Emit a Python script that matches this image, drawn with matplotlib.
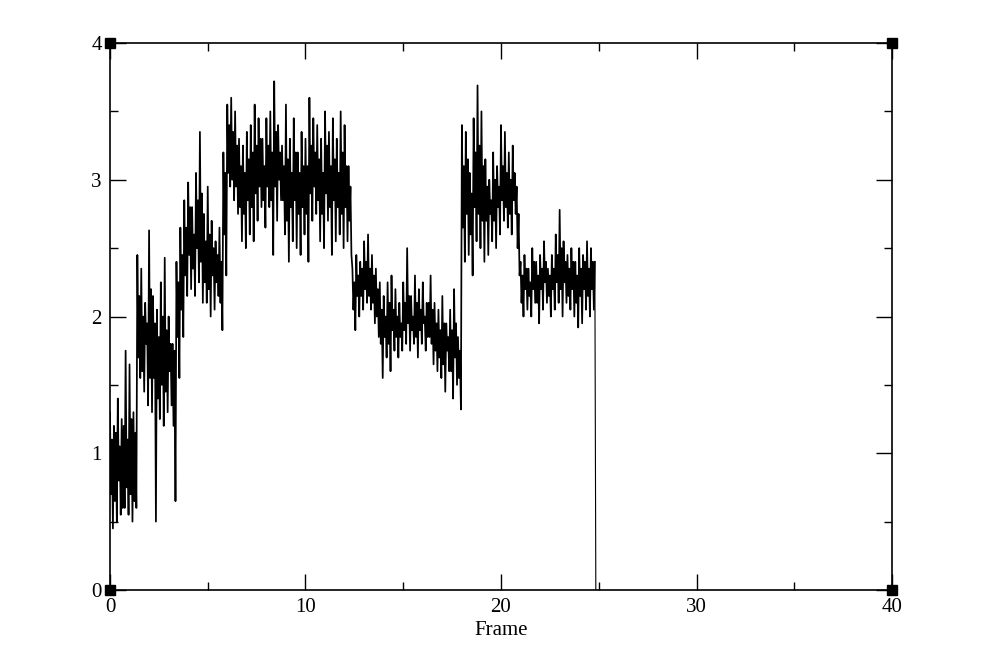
import numpy as np
import matplotlib
matplotlib.use("Agg")
import matplotlib.pyplot as plt
from matplotlib.ticker import MultipleLocator

# Noisy series read per 0.2-frame bin: outer extremes (upper / lower)
bin_width = 0.2
upper = [1.30, 1.20, 1.40, 1.25, 1.75, 1.65, 1.30, 2.45, 2.35, 2.10,
         2.63, 2.15, 2.05, 2.25, 2.43, 2.00, 1.80, 2.40, 2.65, 2.85,
         2.98, 2.80, 3.05, 3.35, 2.75, 2.95, 2.70, 2.55, 2.65, 3.20,
         3.55, 3.60, 3.50, 3.30, 3.25, 3.35, 3.40, 3.55, 3.45, 3.30,
         3.45, 3.50, 3.72, 3.40, 3.25, 3.55, 3.30, 3.45, 3.20, 3.35,
         3.30, 3.60, 3.45, 3.40, 3.30, 3.50, 3.35, 3.45, 3.30, 3.50,
         3.40, 3.10, 2.35, 2.45, 2.40, 2.55, 2.60, 2.45, 2.35, 2.25,
         2.15, 2.25, 2.30, 2.20, 2.10, 2.25, 2.50, 2.15, 2.30, 2.20,
         2.25, 2.10, 2.30, 2.10, 2.05, 2.15, 1.95, 2.05, 2.20, 1.85,
         3.40, 3.35, 3.05, 3.45, 3.69, 3.50, 3.15, 3.00, 3.20, 3.10,
         3.40, 3.35, 3.20, 3.25, 2.95, 2.40, 2.45, 2.35, 2.50, 2.40,
         2.45, 2.55, 2.35, 2.45, 2.60, 2.78, 2.55, 2.45, 2.50, 2.40,
         2.50, 2.45, 2.55, 2.50]
lower = [0.45, 0.50, 0.55, 0.60, 0.55, 0.50, 0.60, 1.55, 1.45, 1.35,
         1.30, 0.50, 1.25, 1.20, 1.30, 1.35, 0.65, 1.55, 1.85, 2.15,
         2.20, 2.15, 2.25, 2.10, 2.10, 2.00, 2.05, 2.15, 1.90, 2.30,
         2.95, 2.85, 2.75, 2.55, 2.50, 2.60, 2.55, 2.70, 2.80, 2.65,
         2.80, 2.45, 2.70, 2.85, 2.60, 2.40, 2.55, 2.50, 2.45, 2.60,
         2.40, 2.70, 2.75, 2.55, 2.50, 2.70, 2.45, 2.55, 2.60, 2.50,
         2.55, 2.45, 1.90, 2.00, 2.05, 2.10, 2.05, 1.95, 1.85, 1.55,
         1.70, 1.60, 1.75, 1.70, 1.75, 1.80, 1.75, 1.80, 1.70, 1.80,
         1.75, 1.85, 1.65, 1.60, 1.55, 1.45, 1.60, 1.40, 1.50, 1.32,
         2.40, 2.45, 2.30, 2.55, 2.50, 2.40, 2.45, 2.55, 2.50, 2.60,
         2.70, 2.65, 2.60, 2.75, 2.30, 2.00, 2.05, 2.00, 2.10, 1.95,
         2.05, 2.10, 2.00, 2.05, 2.10, 2.00, 2.10, 2.05, 2.00, 1.92,
         1.95, 2.05, 2.00, 2.05]

# Same bins, inner (dense core) high / low values
inner_high = [1.10, 1.15, 1.05, 1.20, 1.10, 1.25, 1.15,
              2.15, 2.00, 1.95, 2.20,
              1.95, 1.85, 2.00, 1.90, 1.80,
              1.75,
              2.25, 2.45,
              2.65, 2.80, 2.60, 2.85, 2.90,
              2.55, 2.60, 2.50, 2.45, 2.40,
              3.05,
              3.40, 3.35, 3.25,
              3.10, 3.05, 3.15, 3.20, 3.25, 3.30, 3.10,
              3.25, 3.20, 3.35, 3.20, 3.10, 3.15, 3.05, 3.20, 3.05, 3.10,
              3.10, 3.25, 3.20, 3.15, 3.05, 3.25, 3.10, 3.15, 3.05, 3.20, 3.10, 2.95,
              2.25, 2.30, 2.35, 2.40, 2.35, 2.30, 2.20,
              2.05, 2.00, 2.10, 2.05, 2.00, 1.95, 2.10, 2.15, 2.00, 2.10, 2.05, 2.00, 2.10, 2.05, 1.95,
              1.90, 1.95, 1.85, 1.90, 1.95, 1.75,
              3.10, 3.15, 2.90, 3.20, 3.25, 3.10,
              2.95, 2.85, 3.00, 2.95, 3.10, 3.05, 3.00, 3.05, 2.75,
              2.30, 2.35, 2.25, 2.40, 2.30, 2.35, 2.40, 2.30, 2.35, 2.45,
              2.50, 2.40, 2.35, 2.40, 2.30, 2.35, 2.40, 2.35, 2.40]
inner_low = [0.70, 0.65, 0.80, 0.60, 0.75, 0.70, 0.65,
             1.70, 1.60, 1.80, 1.55,
             1.55, 1.40, 1.50, 1.45, 1.60,
             1.20,
             1.85, 2.05,
             2.30, 2.45, 2.35, 2.50, 2.40,
             2.25, 2.20, 2.30, 2.25, 2.10,
             2.60,
             3.05, 3.00, 2.95,
             2.80, 2.75, 2.85, 2.80, 2.90, 2.95, 2.85,
             2.95, 2.85, 2.95, 3.00, 2.85, 2.70, 2.80, 2.85, 2.75, 2.80,
             2.75, 2.90, 2.95, 2.85, 2.75, 2.90, 2.80, 2.85, 2.80, 2.75, 2.80, 2.70,
             2.05, 2.15, 2.15, 2.20, 2.15, 2.10, 2.00,
             1.80, 1.85, 1.80, 1.90, 1.85, 1.85, 1.90, 1.95, 1.90, 1.85, 1.90, 1.95, 1.85, 1.80, 1.75,
             1.70, 1.65, 1.75, 1.60, 1.70, 1.55,
             2.65, 2.75, 2.60, 2.80, 2.75, 2.70,
             2.70, 2.75, 2.70, 2.80, 2.85, 2.80, 2.75, 2.85, 2.50,
             2.10, 2.20, 2.15, 2.20, 2.10, 2.20, 2.25, 2.15, 2.20, 2.25,
             2.20, 2.25, 2.15, 2.20, 2.10, 2.15, 2.20, 2.15, 2.20]

end_frame = 24.85
end_value = 0.0

x_ticks = [0, 10, 20, 30, 40]
y_ticks = [0, 1, 2, 3, 4]
corner_x = [0, 0, 40, 40]
corner_y = [0, 4, 0, 4]

# build the trace: four samples per bin
n = len(upper)
q = bin_width / 4
xs, ys = [], []
for i in range(n):
    x0 = i * bin_width
    xs += [x0, x0 + q, x0 + 2 * q, x0 + 3 * q]
    ys += [upper[i], inner_low[i], inner_high[i], lower[i]]
xs.append(n * bin_width)
ys.append(inner_high[-1])

plt.rcParams['font.family'] = ['Liberation Serif', 'DejaVu Serif']
fig = plt.figure(figsize=(9.98, 6.62), dpi=100)
ax = fig.add_axes([0.1102, 0.1088, 0.7836, 0.8262])
ax.plot(xs, ys, color='black', lw=1.25)
ax.plot([xs[-1], end_frame], [ys[-1], end_value], color='black', lw=0.8)
ax.plot(corner_x, corner_y, ls='none', marker='s', ms=6.5, color='black', clip_on=False)

ax.set_xlim(0, 40)
ax.set_ylim(0, 4)
ax.set_xticks(x_ticks)
ax.set_yticks(y_ticks)
ax.xaxis.set_minor_locator(MultipleLocator(5))
ax.yaxis.set_minor_locator(MultipleLocator(0.5))
ax.tick_params(which='both', direction='in', top=True, right=True, width=1, labelsize=15)
ax.tick_params(which='major', length=11.5, pad=6)
ax.tick_params(which='minor', length=5.8)
for s in ax.spines.values():
    s.set_linewidth(1.2)
ax.set_xlabel('Frame', fontsize=15, labelpad=3)
fig.savefig('out.png', dpi=100)
